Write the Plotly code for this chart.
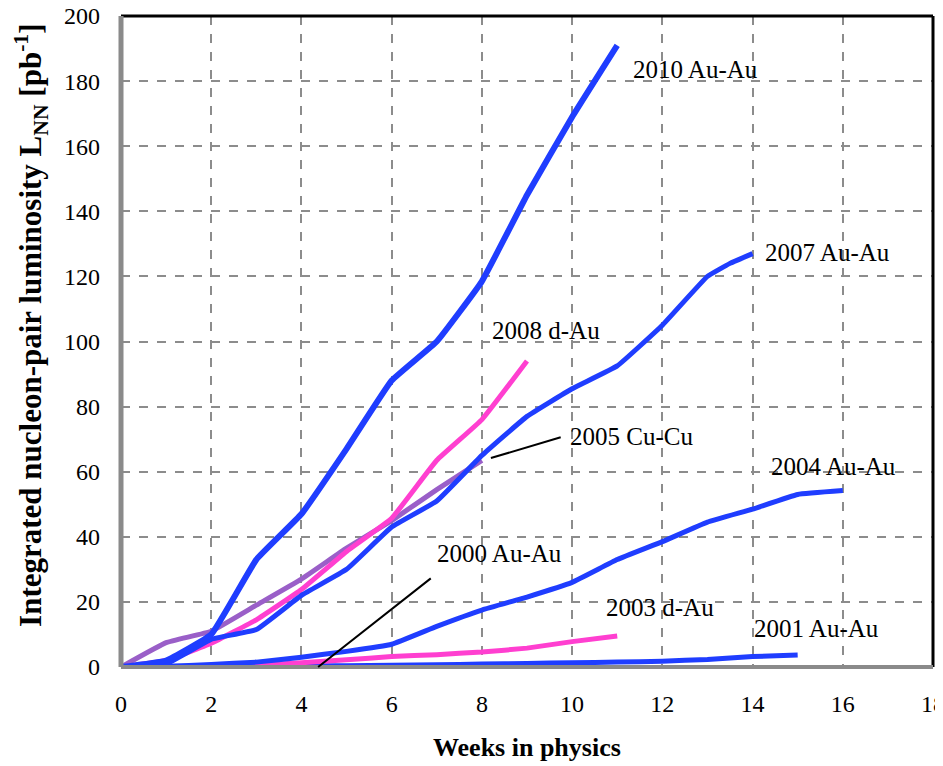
import plotly.graph_objects as go

# ---- data ----
w2010 = [0, 1, 2, 3, 4, 5, 6, 7, 8, 9, 10, 11]
l2010 = [0, 2, 10, 33, 47, 67, 88, 100, 118.5, 145, 169, 191]

w2007 = [0, 1, 2, 3, 4, 5, 6, 7, 8, 9, 10, 11, 12, 13, 13.5, 14]
l2007 = [0, 1, 8.5, 11.5, 22, 30, 43, 51, 65, 77, 85.5, 92.5, 105, 120, 124, 127]

w2005 = [0, 1, 2, 3, 4, 5, 6, 7, 8]
l2005 = [0, 7.5, 11, 19, 27, 36.5, 45, 54.5, 63.5]

w2008 = [0, 1, 2, 3, 4, 5, 6, 7, 8, 9]
l2008 = [0, 2, 7.3, 14.5, 23.8, 35.5, 45.7, 63.5, 76, 94]

w2004 = [0, 1, 2, 3, 4, 5, 6, 7, 8, 9, 10, 11, 12, 13, 14, 15, 16]
l2004 = [0, 0.2, 0.8, 1.5, 3, 4.8, 7, 12.5, 17.5, 21.5, 26, 33, 38.5, 44.5, 48.5, 53, 54.2]

w2003 = [0, 1, 2, 3, 4, 5, 6, 7, 8, 9, 10, 11]
l2003 = [0, 0, 0.1, 0.6, 1.3, 2.2, 3.2, 3.8, 4.6, 5.8, 7.8, 9.5]

w2001 = [0, 1, 2, 3, 4, 5, 6, 7, 8, 9, 10, 11, 12, 13, 14, 15]
l2001 = [0, 0.05, 0.1, 0.2, 0.3, 0.4, 0.5, 0.7, 0.9, 1.1, 1.3, 1.5, 1.8, 2.3, 3.2, 3.7]

w2000 = [0, 1, 2, 3, 4, 5]
l2000 = [0, 0.01, 0.03, 0.05, 0.08, 0.1]

x_ticks = list(range(0, 19, 2))
y_ticks = list(range(0, 201, 20))

# labels: (text, x, y)
labels = [
    ("2010 Au-Au", 11.3, 183.5),
    ("2007 Au-Au", 14.23, 127.2),
    ("2008 d-Au", 8.18, 103.5),
    ("2005 Cu-Cu", 9.91, 70.7),
    ("2004 Au-Au", 14.37, 61.7),
    ("2000 Au-Au", 6.96, 35.0),
    ("2003 d-Au", 10.71, 18.4),
    ("2001 Au-Au", 13.99, 11.7),
]
# leader lines: (x0, y0, x1, y1)
leaders = [
    (8.2, 64.2, 9.78, 70.7),
    (4.37, 0.0, 6.9, 27.6),
]

BLUE = "#1f3dff"
MAG = "#ff3fd0"
PUR = "#9a5fc8"

fig = go.Figure()
series = [
    (w2005, l2005, PUR, "2005 Cu-Cu", 5),
    (w2000, l2000, BLUE, "2000 Au-Au", 5),
    (w2001, l2001, BLUE, "2001 Au-Au", 5),
    (w2003, l2003, MAG, "2003 d-Au", 5),
    (w2004, l2004, BLUE, "2004 Au-Au", 5),
    (w2008, l2008, MAG, "2008 d-Au", 5),
    (w2007, l2007, BLUE, "2007 Au-Au", 5),
    (w2010, l2010, BLUE, "2010 Au-Au", 6),
]
for xs, ys, c, n, lw in series:
    fig.add_trace(go.Scatter(x=xs, y=ys, mode="lines", name=n,
                             line=dict(color=c, width=lw, shape="spline", smoothing=0.3)))

font_family = "Liberation Serif"
annotations = []
for t, x, y in labels:
    annotations.append(dict(x=x, y=y, xref="x", yref="y", text=t, showarrow=False,
                            xanchor="left", yanchor="middle",
                            font=dict(family=font_family, size=25, color="black")))
for x0, y0, x1, y1 in leaders:
    annotations.append(dict(x=x0, y=y0, ax=x1, ay=y1, xref="x", yref="y", axref="x", ayref="y",
                            text="", showarrow=True, arrowhead=0, arrowwidth=2, arrowcolor="black"))
annotations.append(dict(x=0.5, y=-0.124, xref="paper", yref="paper", text="<b>Weeks in physics</b>",
                        showarrow=False, xanchor="center", yanchor="middle",
                        font=dict(family=font_family, size=26, color="black")))
annotations.append(dict(x=-0.110, y=0.525, xref="paper", yref="paper",
                        text="<b>Integrated nucleon-pair luminosity L<sub>NN</sub> [pb<sup>-1</sup>]</b>",
                        showarrow=False, textangle=-90, xanchor="center", yanchor="middle",
                        font=dict(family=font_family, size=31, color="black")))

shapes = [
    dict(type="line", xref="paper", yref="paper", x0=0, x1=1, y0=1, y1=1, line=dict(color="black", width=3)),
    dict(type="line", xref="paper", yref="paper", x0=1, x1=1, y0=0, y1=1, line=dict(color="black", width=3)),
    dict(type="line", xref="paper", yref="paper", x0=0, x1=0, y0=0, y1=1, line=dict(color="#8a8a8a", width=5)),
    dict(type="line", xref="paper", yref="paper", x0=0, x1=1, y0=0, y1=0, line=dict(color="#8a8a8a", width=4)),
]

# page body has an 8px margin: shrink the figure so it fits the 943x766 window
fig.update_layout(
    width=935, height=758,
    margin=dict(l=113, r=10, t=8, b=99),
    paper_bgcolor="white", plot_bgcolor="white",
    showlegend=False,
    annotations=annotations,
    shapes=shapes,
    font=dict(family=font_family, color="black"),
)
fig.update_xaxes(range=[0, 18], tickvals=x_ticks, showgrid=True, gridcolor="#8c8c8c",
                 griddash="dash", gridwidth=2, zeroline=False, showline=False, automargin=False,
                 ticklabeloverflow="allow",
                 ticks="", ticklabelstandoff=20, tickfont=dict(family=font_family, size=24))
fig.update_yaxes(range=[0, 200], tickvals=y_ticks, showgrid=True, gridcolor="#8c8c8c",
                 griddash="dash", gridwidth=2, zeroline=False, showline=False, automargin=False,
                 ticklabeloverflow="allow",
                 ticks="", ticklabelstandoff=20, tickfont=dict(family=font_family, size=24))

fig.write_html("out.html")
